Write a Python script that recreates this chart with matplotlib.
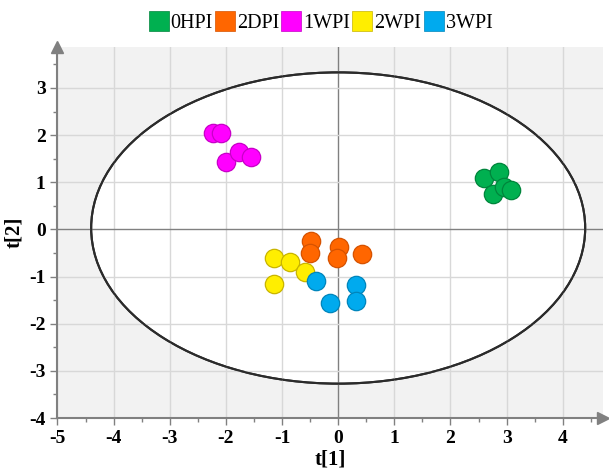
import matplotlib
matplotlib.use("Agg")
import matplotlib.pyplot as plt
from matplotlib.patches import Ellipse
from matplotlib.lines import Line2D
import numpy as np

plt.rcParams['font.family'] = ['Liberation Serif', 'DejaVu Serif']
plt.rcParams['axes.unicode_minus'] = False

GROUPS = ['0HPI', '2DPI', '1WPI', '2WPI', '3WPI']
FACE = ['#00b050', '#ff6600', '#ff00ff', '#ffee00', '#00aaee']
EDGE = ['#00853c', '#d65200', '#c800c8', '#c8b400', '#0085bb']

# score coordinates per group (t[1], t[2])
t1_0hpi = [2.60, 2.87, 2.75, 2.96, 3.08]
t2_0hpi = [1.10, 1.21, 0.75, 0.91, 0.84]
t1_2dpi = [-0.48, -0.50, 0.01, -0.02, 0.43]
t2_2dpi = [-0.24, -0.51, -0.37, -0.61, -0.53]
t1_1wpi = [-2.23, -2.09, -1.99, -1.77, -1.56]
t2_1wpi = [2.04, 2.04, 1.43, 1.64, 1.53]
t1_2wpi = [-1.15, -0.86, -0.59, -1.15]
t2_2wpi = [-0.61, -0.70, -0.90, -1.16]
t1_3wpi = [-0.40, 0.31, 0.31, -0.14]
t2_3wpi = [-1.09, -1.18, -1.51, -1.55]

t1 = [t1_0hpi, t1_2dpi, t1_1wpi, t1_2wpi, t1_3wpi]
t2 = [t2_0hpi, t2_2dpi, t2_1wpi, t2_2wpi, t2_3wpi]

# Hotelling T2 ellipse semi-axes
ell_a, ell_b = 4.40, 3.30

fig = plt.figure(figsize=(6.09, 4.74), dpi=100)
ax = fig.add_axes([0.0944, 0.118, 0.896, 0.783])
ax.set_facecolor('#f2f2f2')

ax.add_patch(Ellipse((0, 0.03), 2 * ell_a, 2 * ell_b, facecolor='white',
                     edgecolor='#2b2b2b', lw=1.5, zorder=0.5))
ax.add_patch(Ellipse((0, 0.03), 2 * ell_a, 2 * ell_b, facecolor='none',
                     edgecolor='#2b2b2b', lw=1.5, zorder=2))

for v in range(-5, 5):
    ax.axvline(v, color='#808080' if v == 0 else '#d8d8d8', lw=1.0, zorder=1)
for v in range(-4, 4):
    ax.axhline(v, color='#808080' if v == 0 else '#d8d8d8', lw=1.0, zorder=1)

for i in range(len(GROUPS)):
    ax.scatter(t1[i], t2[i], s=175, c=FACE[i], edgecolors=EDGE[i],
               linewidths=0.9, zorder=3)

ax.set_xlim(-5, 4.72)
ax.set_ylim(-4, 3.87)
ax.set_xticks(np.arange(-5, 5))
ax.set_yticks(np.arange(-4, 4))
ax.set_xticks(np.arange(-4.5, 4.6, 1.0), minor=True)
ax.set_yticks(np.arange(-3.5, 3.6, 1.0), minor=True)
ax.tick_params(which='major', length=5, color='#808080', width=1,
               labelsize=14)
ax.tick_params(which='minor', length=3, color='#808080', width=1)
for lab in ax.get_xticklabels() + ax.get_yticklabels():
    lab.set_fontweight('bold')

for s in ['top', 'right']:
    ax.spines[s].set_visible(False)
for s in ['left', 'bottom']:
    ax.spines[s].set_color('#808080')
    ax.spines[s].set_linewidth(1.5)

# axis arrows
ax.plot(1.0, 0, marker='>', ms=8, color='#808080', transform=ax.transAxes,
        clip_on=False)
ax.plot(0, 1.0, marker='^', ms=8, color='#808080', transform=ax.transAxes,
        clip_on=False)

ax.set_xlabel('t[1]', fontsize=15, fontweight='bold', labelpad=2)
ax.set_ylabel('t[2]', fontsize=15, fontweight='bold', labelpad=4)

handles = [Line2D([], [], marker='s', ls='none', ms=15, mfc=FACE[i],
                  mec=EDGE[i], mew=0.5) for i in range(len(GROUPS))]
fig.legend(handles, GROUPS, loc='upper center', bbox_to_anchor=(0.527, 1.0),
           ncol=5, frameon=False, fontsize=14.5, handlelength=0.9,
           handletextpad=0.15, columnspacing=0.15, borderaxespad=0.3)

fig.savefig('out.png', dpi=100)
